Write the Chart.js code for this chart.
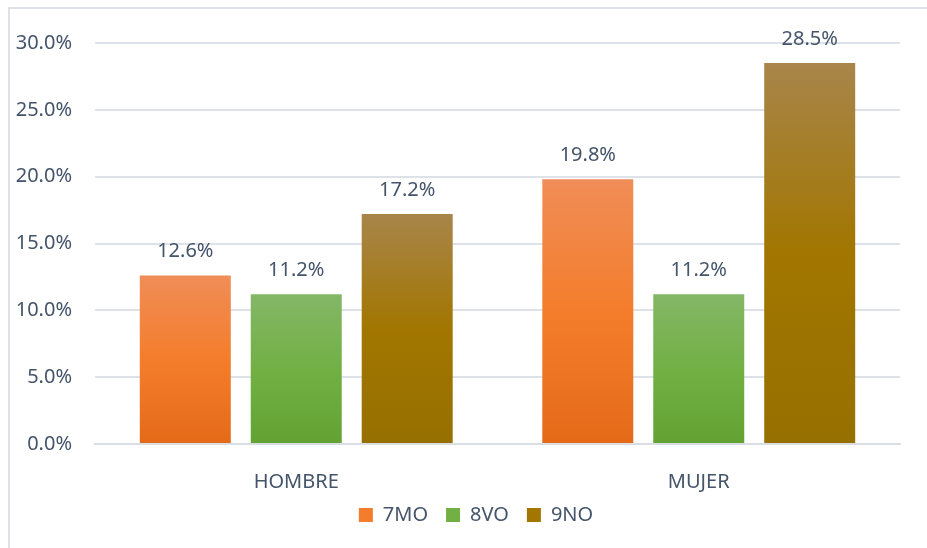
<!DOCTYPE html>
<html>
<head>
<meta charset="utf-8">
<script src="https://cdn.jsdelivr.net/npm/chart.js@4/dist/chart.umd.min.js"></script>
<style>
  html, body { margin: 0; padding: 0; background: #fff; overflow: hidden; }
  #frame {
    position: absolute; left: 8px; top: 7px; width: 940px; height: 560px;
    border-left: 2px solid #DEE2E8; border-top: 2px solid #DEE2E8;
  }
  #wrap { position: absolute; left: 0; top: 0; width: 927px; height: 548px; }
</style>
</head>
<body>
<div id="frame"></div>
<div id="wrap"><canvas id="chart"></canvas></div>
<script>
// categories and series (percent values)
const categories = ['HOMBRE', 'MUJER'];
const seriesNames = ['7MO', '8VO', '9NO'];
const values7mo = [12.6, 19.8];
const values8vo = [11.2, 11.2];
const values9no = [17.2, 28.5];
const yTicks = [0, 5, 10, 15, 20, 25, 30];

const textColor = '#44546A';
const fontFamily = '"Noto Sans", "Open Sans", sans-serif';

// gradient stops per series: top, middle, bottom
const palettes = [
    ['#F08D57', '#F47D2B', '#E46A18'],
    ['#84B766', '#72B044', '#62A232'],
    ['#A8854A', '#A27600', '#967000']
];

// vertical gradient from bar top down to the zero line
function barGradient(ctx, seriesIndex) {
    const chart = ctx.chart;
    const { chartArea } = chart;
    const cols = palettes[seriesIndex];
    if (!chartArea || ctx.type !== 'data') return cols[1];
    const y = chart.scales.y;
    const top = y.getPixelForValue(ctx.raw);
    const bottom = y.getPixelForValue(0);
    const g = chart.ctx.createLinearGradient(0, top, 0, bottom);
    g.addColorStop(0, cols[0]);
    g.addColorStop(0.5, cols[1]);
    g.addColorStop(1, cols[2]);
    return g;
}

// value labels above each bar
const valueLabels = {
    id: 'valueLabels',
    afterDatasetsDraw(chart) {
        const c = chart.ctx;
        c.save();
        c.font = '20px ' + fontFamily;
        c.fillStyle = textColor;
        c.textAlign = 'center';
        c.textBaseline = 'middle';
        chart.data.datasets.forEach((ds, i) => {
            chart.getDatasetMeta(i).data.forEach((bar, j) => {
                c.fillText(ds.data[j].toFixed(1) + '%', bar.x, bar.y - 24);
            });
        });
        c.restore();
    }
};

// nudge the legend right and up a little, like the original
const legendShift = {
    id: 'legendShift',
    afterLayout(chart) {
        const lg = chart.legend;
        if (!lg) return;
        lg.left += 26;
        lg.right += 26;
        lg.top -= 7;
        lg.bottom -= 7;
    }
};

const allSeries = [values7mo, values8vo, values9no];

new Chart(document.getElementById('chart'), {
    type: 'bar',
    data: {
        labels: categories,
        datasets: seriesNames.map((name, i) => ({
            label: name,
            data: allSeries[i],
            backgroundColor: ctx => barGradient(ctx, i),
            borderWidth: 0,
            categoryPercentage: 0.827,
            barPercentage: 0.82
        }))
    },
    options: {
        responsive: true,
        maintainAspectRatio: false,
        animation: false,
        layout: { padding: { left: 0, right: 27, top: 43, bottom: 6 } },
        plugins: {
            tooltip: { enabled: false },
            legend: {
                position: 'bottom',
                labels: {
                    color: textColor,
                    font: { family: fontFamily, size: 20 },
                    boxWidth: 14,
                    boxHeight: 14,
                    padding: 18,
                    generateLabels(chart) {
                        return chart.data.datasets.map((ds, i) => ({
                            text: ds.label,
                            fillStyle: palettes[i][1],
                            strokeStyle: palettes[i][1],
                            lineWidth: 0,
                            datasetIndex: i,
                            fontColor: textColor
                        }));
                    }
                }
            }
        },
        scales: {
            x: {
                grid: { display: false },
                border: { color: '#D9DEE5', width: 2 },
                ticks: {
                    color: textColor,
                    font: { family: fontFamily, size: 20 },
                    padding: 18
                },
                afterFit(scale) { scale.height = 50; }
            },
            y: {
                min: 0,
                max: 30,
                afterBuildTicks(scale) {
                    scale.ticks = yTicks.map(v => ({ value: v }));
                },
                grid: { color: '#DDE2E8', lineWidth: 2, drawTicks: false },
                border: { display: false },
                ticks: {
                    color: textColor,
                    font: { family: fontFamily, size: 20 },
                    padding: 23,
                    callback: v => v.toFixed(1) + '%'
                },
                afterFit(scale) { scale.width = 95; }
            }
        }
    },
    plugins: [valueLabels, legendShift]
});
</script>
</body>
</html>
